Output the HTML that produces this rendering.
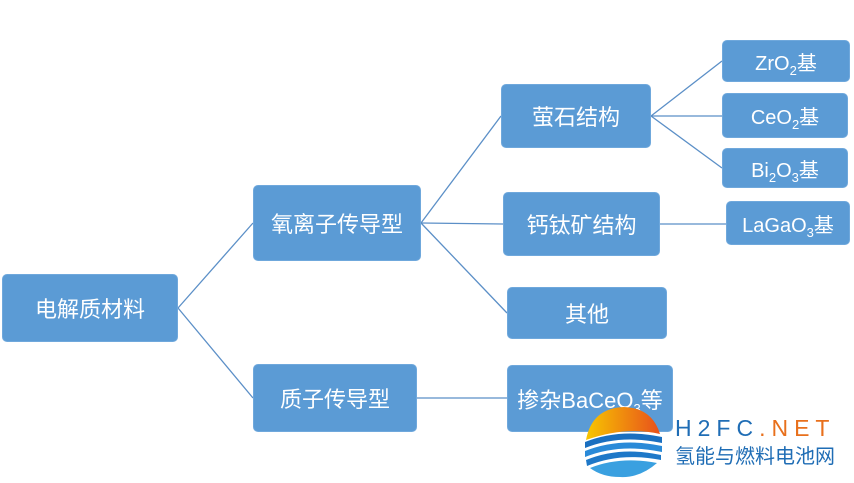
<!DOCTYPE html>
<html><head><meta charset="utf-8"><style>
body{margin:0;width:854px;height:483px;background:#fff;position:relative;overflow:hidden;font-family:"Liberation Sans","Noto Sans CJK SC",sans-serif}
.b{position:absolute;background:#5b9bd5;border:1px solid #6fa8dc;border-radius:5px;color:#fff;font-size:22px;display:flex;align-items:center;justify-content:center;box-sizing:border-box}
.s{font-size:20px}
sub{font-size:13px;vertical-align:-5px;line-height:0}
svg{position:absolute;left:0;top:0}
</style></head><body>
<svg width="854" height="483">
<g stroke="#5b8fc7" stroke-width="1.3" fill="none">
<line x1="178" y1="308" x2="253" y2="223"/><line x1="178" y1="308" x2="253" y2="398"/>
<line x1="421" y1="223" x2="501" y2="116"/><line x1="421" y1="223" x2="503" y2="224"/><line x1="421" y1="223" x2="507" y2="313"/>
<line x1="417" y1="398" x2="507" y2="398"/>
<line x1="651" y1="116" x2="722" y2="61"/><line x1="651" y1="116" x2="722" y2="116"/><line x1="651" y1="116" x2="722" y2="168"/>
<line x1="660" y1="224" x2="726" y2="224"/>
</g></svg>
<div class="b" style="left:2px;top:274px;width:176px;height:68px"><span>电解质材料</span></div>
<div class="b" style="left:253px;top:185px;width:168px;height:76px"><span>氧离子传导型</span></div>
<div class="b" style="left:253px;top:364px;width:164px;height:68px"><span>质子传导型</span></div>
<div class="b" style="left:501px;top:84px;width:150px;height:64px"><span>萤石结构</span></div>
<div class="b" style="left:503px;top:192px;width:157px;height:64px"><span>钙钛矿结构</span></div>
<div class="b" style="left:507px;top:287px;width:160px;height:52px"><span>其他</span></div>
<div class="b" style="left:507px;top:365px;width:166px;height:67px"><span>掺杂BaCeO<sub>3</sub>等</span></div>
<div class="b s" style="left:722px;top:40px;width:128px;height:42px"><span>ZrO<sub>2</sub>基</span></div>
<div class="b s" style="left:722px;top:93px;width:126px;height:45px"><span>CeO<sub>2</sub>基</span></div>
<div class="b s" style="left:722px;top:148px;width:126px;height:40px"><span>Bi<sub>2</sub>O<sub>3</sub>基</span></div>
<div class="b s" style="left:726px;top:201px;width:124px;height:44px"><span>LaGaO<sub>3</sub>基</span></div>
<svg width="854" height="483">
<defs><linearGradient id="g" x1="0" y1="0" x2="1" y2="0"><stop offset="0" stop-color="#f7c600"/><stop offset="1" stop-color="#e8501c"/></linearGradient></defs>
<path d="M586 440 Q592 408 624 407 Q652 408 660 434 Q625 426 586 440Z" fill="url(#g)"/>
<path d="M585 442 Q620 428 662 437 L662 443 Q620 434 585 448Z" fill="#1a6fc0"/>
<path d="M585 451 Q620 437 662 446 L662 452 Q620 443 585 457Z" fill="#2a8ad8"/>
<path d="M586 460 Q620 446 661 455 L661 460 Q620 452 587 466Z" fill="#1e78c8"/>
<path d="M590 468 Q620 456 657 463 Q640 478 620 477 Q602 477 590 468Z" fill="#3aa0e0"/>
<text x="675" y="436" font-family="Liberation Sans" font-size="23" fill="#1f6db5" letter-spacing="6">H2FC<tspan fill="#e8701c">.NET</tspan></text>
<text x="675" y="463" font-family="Noto Sans CJK SC" font-size="20" fill="#1f6db5">氢能与燃料电池网</text>
</svg>
</body></html>
